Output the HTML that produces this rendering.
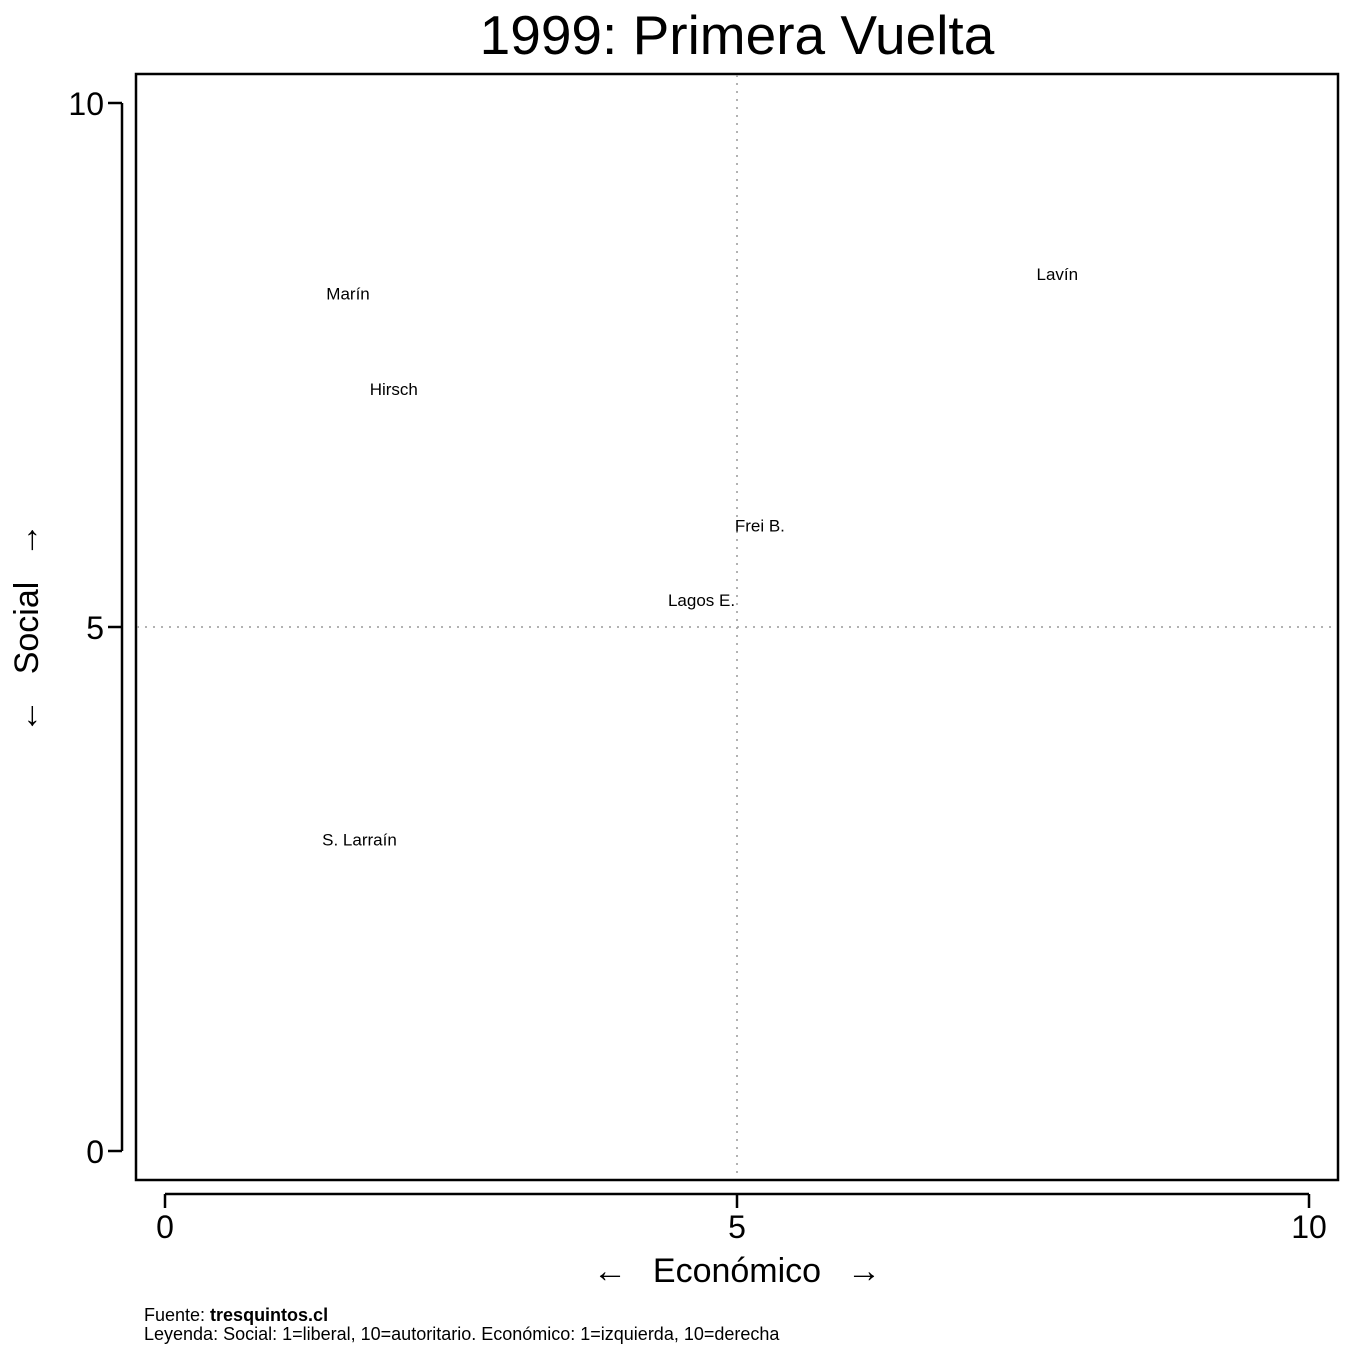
<!DOCTYPE html>
<html><head><meta charset="utf-8"><style>
html,body{margin:0;padding:0;background:#fff;}
svg{display:block;font-family:"Liberation Sans",sans-serif;}
</style></head><body>
<svg id="chart" width="1354" height="1354">
<text x="737" y="54" font-size="55" text-anchor="middle">1999: Primera Vuelta</text>
<rect x="136" y="74" width="1202" height="1106" fill="none" stroke="#000" stroke-width="2.5"/>
<g id="axes"></g>
<g id="marks"></g>
<g font-size="34">
<text x="610" y="1282" text-anchor="middle">←</text>
<text x="737" y="1282" text-anchor="middle">Económico</text>
<text x="864" y="1282" text-anchor="middle">→</text>
</g>
<g font-size="34" transform="translate(38,628) rotate(-90)">
<text x="-88" y="0" text-anchor="middle">←</text>
<text x="0" y="0" text-anchor="middle">Social</text>
<text x="88" y="0" text-anchor="middle">→</text>
</g>
<text x="144" y="1321" font-size="18">Fuente: <tspan font-weight="bold">tresquintos.cl</tspan></text>
<text x="144" y="1340" font-size="18">Leyenda: Social: 1=liberal, 10=autoritario. Económico: 1=izquierda, 10=derecha</text>
</svg>
<script>
const names = ["Marín","Hirsch","Lavín","Frei B.","Lagos E.","S. Larraín"];
const econ = [1.6, 2.0, 7.8, 5.2, 4.69, 1.7];
const social = [8.18, 7.27, 8.37, 5.97, 5.26, 2.97];
const xTicks = [0,5,10];
const yTicks = [0,5,10];
const X = v => 165 + v*114.4;
const Y = v => 1151 - v*104.8;
const NS = "http://www.w3.org/2000/svg";
const axes = document.getElementById('axes');
const marks = document.getElementById('marks');
function mk(tag, attrs, parent){const e=document.createElementNS(NS,tag);for(const k in attrs)e.setAttribute(k,attrs[k]);parent.appendChild(e);return e;}
let rl = mk('line',{x1:X(5),x2:X(5),y1:75,y2:1179,stroke:'#999','stroke-width':1.5,'stroke-dasharray':'2,6'},axes);


let rh = mk('line',{x1:137,x2:1337,y1:Y(5),y2:Y(5),stroke:'#999','stroke-width':1.5,'stroke-dasharray':'2,6'},axes);


let xa = mk('line',{x1:X(0),x2:X(10),y1:1194,y2:1194,stroke:'#000','stroke-width':2.5},axes);


xTicks.forEach(t=>{
  let l=mk('line',{x1:X(t),x2:X(t),y1:1194,y2:1208,stroke:'#000','stroke-width':2.5},axes);
  
  
  let tx=mk('text',{x:X(t),y:1238,'font-size':32,'text-anchor':'middle'},axes);tx.textContent=t;
  
  
});
let ya = mk('line',{x1:122,x2:122,y1:Y(0),y2:Y(10),stroke:'#000','stroke-width':2.5},axes);


yTicks.forEach(t=>{
  let l=mk('line',{x1:108,x2:122,y1:Y(t),y2:Y(t),stroke:'#000','stroke-width':2.5},axes);
  
  
  let tx=mk('text',{x:104,y:Y(t)+12,'font-size':32,'text-anchor':'end'},axes);tx.textContent=t;
  
  
});
names.forEach((n,i)=>{
  let tx=mk('text',{x:X(econ[i]),y:Y(social[i])+6,'font-size':17,'text-anchor':'middle'},marks);
  tx.textContent=n;
  
  
});
</script>
</body></html>
